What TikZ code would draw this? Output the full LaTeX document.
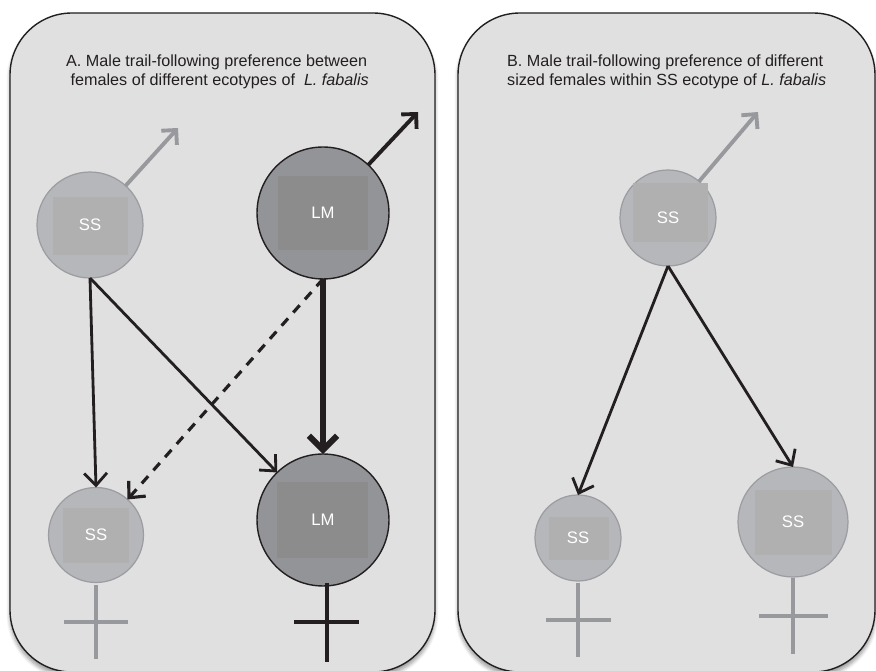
\documentclass[tikz,border=0pt]{standalone}
\usepackage{fontspec}
\setmainfont{Liberation Sans}
\usepackage{tikz}
\usetikzlibrary{arrows.meta,shadows.blur}
\definecolor{ink}{HTML}{231F20}
\definecolor{panelgrey}{HTML}{E0E0E1}
\definecolor{ssfill}{HTML}{B6B7BB}
\definecolor{ssinner}{HTML}{B0B0B1}
\definecolor{ssline}{HTML}{9C9DA0}
\definecolor{lmfill}{HTML}{939498}
\definecolor{lminner}{HTML}{8C8C8D}
\definecolor{greyarrow}{HTML}{98999C}

\begin{document}
\begin{tikzpicture}[x=0.02cm,y=-0.02cm,
	panel/.style={draw=ink,line width=0.8pt,fill=panelgrey,rounded corners=1.24cm,
		blur shadow={shadow xshift=0pt,shadow yshift=-2.5pt,shadow blur steps=6,shadow opacity=40}},
	ssnode/.style={circle,draw=ssline,line width=0.7pt,fill=ssfill,inner sep=0pt,outer sep=0pt},
	lmnode/.style={circle,draw=ink,line width=0.8pt,fill=lmfill,inner sep=0pt,outer sep=0pt},
	lbl/.style={text=white,font=\fontsize{9.5}{11}\selectfont},
	title/.style={text=ink,align=left,anchor=west,font=\fontsize{9.2}{10.9}\selectfont},
	arr/.style={draw=ink,line width=1.6pt,-{Straight Barb[length=7pt,width=13pt]}},
	thickarr/.style={draw=ink,line width=3.4pt,-{Straight Barb[length=8pt,width=16pt]}},
	greyarr/.style={draw=greyarrow,line width=2.2pt,-{Straight Barb[length=6pt,width=12pt]}},
	darkarr/.style={draw=ink,line width=2.2pt,-{Straight Barb[length=6pt,width=12pt]}},
	dasharr/.style={draw=ink,line width=1.8pt,dash pattern=on 5.5pt off 4.5pt,-{Straight Barb[length=7pt,width=13pt]}},
	greysym/.style={draw=greyarrow,line width=2pt},
	blacksym/.style={draw=ink,line width=2.7pt}]
			\useasboundingbox (0,0) rectangle (876,671);
			%%%%% PANELS %%%%%
			\path[panel] (10,13) rectangle (435,672);
			\path[panel] (458,13) rectangle (875,672);
			
			\node[title] (titleA) at (60,72) {A. Male trail-following preference between\\ \ females of different ecotypes of \ \textit{L. fabalis}};
			\node[title] (titleB) at (501,72) {B. Male trail-following preference of different\\sized females within SS ecotype of \textit{L. fabalis}};
			
			%%%%% PANEL A %%%%%
			\node[ssnode,minimum size=2.12cm] (ssTop) at (90,225) {};
			\fill[ssinner] (53,197) rectangle (128,255);
			\node[lbl] at (ssTop) {SS};
			
			\node[lmnode,minimum size=2.64cm] (lmTop) at (323,213) {};
			\fill[lminner] (278,176) rectangle (368,250);
			\node[lbl] at (lmTop) {LM};
			
			\node[ssnode,minimum size=1.9cm] (ssBot) at (96,535) {};
			\fill[ssinner] (63,508) rectangle (129,563);
			\node[lbl] at (ssBot) {SS};
			
			\node[lmnode,minimum size=2.64cm] (lmBot) at (323,520) {};
			\fill[lminner] (277,482) rectangle (368,558);
			\node[lbl] at (lmBot) {LM};
			
			\coordinate (ssTopOut) at (178,128);
			\coordinate (lmTopOut) at (418,112);
			\draw[greyarr] (ssTop) -- (ssTopOut);
			\draw[darkarr] (lmTop) -- (lmTopOut);
			
			\draw[arr] (ssTop.south) -- (ssBot.north);
			\draw[arr] (ssTop.south) -- (lmBot);
			\draw[thickarr] (lmTop.south) -- (lmBot.north);
			\draw[dasharr] (lmTop.south) -- (ssBot);
			
			% female signs
			\draw[greysym] (96,585) -- (96,659);
			\draw[greysym] (64,622) -- (128,622);
			\draw[blacksym] (327,583) -- (327,662);
			\draw[blacksym] (294,622) -- (359,622);
			
			%%%%% PANEL B %%%%%
			\node[ssnode,minimum size=1.92cm] (ssMale) at (668,218) {};
			\fill[ssinner] (633,183) rectangle (708,242);
			\node[lbl] at (ssMale) {SS};
			
			\node[ssnode,minimum size=1.72cm] (ssSmall) at (578,538) {};
			\fill[ssinner] (549,517) rectangle (609,560);
			\node[lbl] at (ssSmall) {SS};
			
			\node[ssnode,minimum size=2.2cm] (ssLarge) at (793,522) {};
			\fill[ssinner] (755,490) rectangle (832,555);
			\node[lbl] at (ssLarge) {SS};
			
			\coordinate (ssMaleOut) at (758,112);
			\draw[greyarr] (ssMale) -- (ssMaleOut);
			\draw[arr] (ssMale.south) -- (ssSmall.north);
			\draw[arr] (ssMale.south) -- (ssLarge.north);
			
			% female signs
			\draw[greysym] (578,583) -- (578,657);
			\draw[greysym] (546,620) -- (611,620);
			\draw[greysym] (793,578) -- (793,654);
			\draw[greysym] (759,616) -- (828,616);
		\end{tikzpicture}
\end{document}
